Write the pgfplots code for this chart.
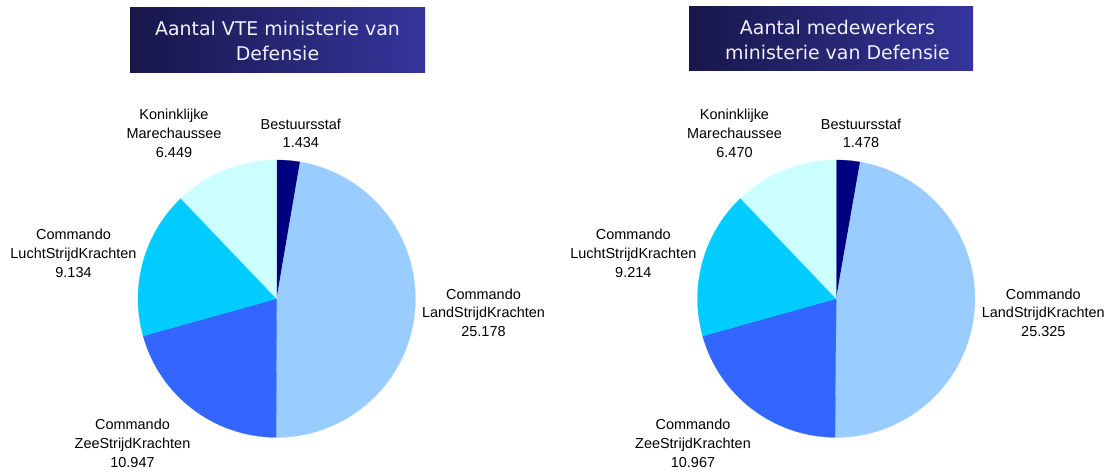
\documentclass[border=0pt]{standalone}
\usepackage{pgfplots}
\pgfplotsset{compat=1.18}
\usepackage{pgfplotstable}
\usepackage{fontspec}
\setmainfont{Liberation Sans}
\newfontfamily\titlefont{DejaVu Sans}

\definecolor{cBest}{HTML}{000080}
\definecolor{cLand}{HTML}{99CCFF}
\definecolor{cZee}{HTML}{3366FF}
\definecolor{cLucht}{HTML}{00CCFF}
\definecolor{cKMar}{HTML}{CCFFFF}
\definecolor{tLeft}{HTML}{17174A}
\definecolor{tRight}{HTML}{35359C}

% VTE ministerie van Defensie
\pgfplotstableread{
name value color
Bestuursstaf 1434 cBest
Land 25178 cLand
Zee 10947 cZee
Lucht 9134 cLucht
KMar 6449 cKMar
}\vtetable

% Medewerkers ministerie van Defensie
\pgfplotstableread{
name value color
Bestuursstaf 1478 cBest
Land 25325 cLand
Zee 10967 cZee
Lucht 9214 cLucht
KMar 6470 cKMar
}\medtable

\def\pieR{138.7bp}

\newcommand{\drawpie}[1]{%
  \def\pietotal{0}%
  \pgfplotsforeachungrouped \i in {0,...,4}{%
    \pgfplotstablegetelem{\i}{value}\of{#1}%
    \edef\pietotal{\fpeval{\pietotal+\pgfplotsretval}}%
  }%
  \def\pieangle{90}%
  \pgfplotsforeachungrouped \i in {0,...,4}{%
    \pgfplotstablegetelem{\i}{value}\of{#1}%
    \edef\pieend{\fpeval{\pieangle-360*\pgfplotsretval/\pietotal}}%
    \pgfplotstablegetelem{\i}{color}\of{#1}%
    \edef\piecol{\pgfplotsretval}%
    \fill[\piecol, draw=\piecol, line width=0.2pt] (axis cs:0,0) -- ++(\pieangle:\pieR)
      arc[start angle=\pieangle, end angle=\pieend, radius=\pieR] -- cycle;%
    \let\pieangle\pieend
  }%
}

\newcommand{\lblthree}[5]{%
  \node[anchor=base, inner sep=0pt] at (#1bp,#2bp) {#3};
  \node[anchor=base, inner sep=0pt] at (#1bp,#2bp-18.7bp) {#4};
  \node[anchor=base, inner sep=0pt] at (#1bp,#2bp-37.4bp) {#5};
}
\newcommand{\lbltwo}[4]{%
  \node[anchor=base, inner sep=0pt] at (#1bp,#2bp) {#3};
  \node[anchor=base, inner sep=0pt] at (#1bp,#2bp-18.7bp) {#4};
}

\begin{document}
\begin{tikzpicture}
\path[use as bounding box] (0,0) rectangle (1112bp,474bp);

\pgfplotsset{pieaxis/.style={
  hide axis, x=1bp, y=1bp,
  xmin=-140, xmax=140, ymin=-140, ymax=140,
  anchor=origin, clip=false}}

\begin{axis}[pieaxis, at={(276.7bp,175.3bp)}]
  \pgfplotsextra{\drawpie{\vtetable}}
\end{axis}

\begin{axis}[pieaxis, at={(836.2bp,175.3bp)}]
  \pgfplotsextra{\drawpie{\medtable}}
\end{axis}

% Titles
\shade[left color=tLeft, right color=tRight] (130bp,401.5bp) rectangle (425bp,466bp);
\shade[left color=tLeft, right color=tRight] (689bp,403.3bp) rectangle (973bp,467bp);
\begin{scope}[every node/.style={anchor=base, inner sep=0pt, text=white!94!blue, font=\titlefont\fontsize{19}{23}\selectfont}]
  \node at (277.5bp,438bp) {Aantal VTE ministerie van};
  \node at (277.5bp,413bp) {Defensie};
  \node at (837.5bp,439.5bp) {Aantal medewerkers};
  \node at (837.5bp,414.5bp) {ministerie van Defensie};
\end{scope}

% Labels
\begin{scope}[every node/.style={font=\fontsize{14.5}{17}\selectfont}]
  \lblthree{174}{354}{Koninklijke}{Marechaussee}{6.449}
  \lbltwo{300.8}{344.7}{Bestuursstaf}{1.434}
  \lblthree{73.5}{234}{Commando}{LuchtStrijdKrachten}{9.134}
  \lblthree{483.5}{174.7}{Commando}{LandStrijdKrachten}{25.178}
  \lblthree{132.5}{44}{Commando}{ZeeStrijdKrachten}{10.947}

  \lblthree{734.5}{354}{Koninklijke}{Marechaussee}{6.470}
  \lbltwo{861}{344.7}{Bestuursstaf}{1.478}
  \lblthree{633.3}{234}{Commando}{LuchtStrijdKrachten}{9.214}
  \lblthree{1043.3}{174.7}{Commando}{LandStrijdKrachten}{25.325}
  \lblthree{693}{44}{Commando}{ZeeStrijdKrachten}{10.967}
\end{scope}
\end{tikzpicture}
\end{document}
